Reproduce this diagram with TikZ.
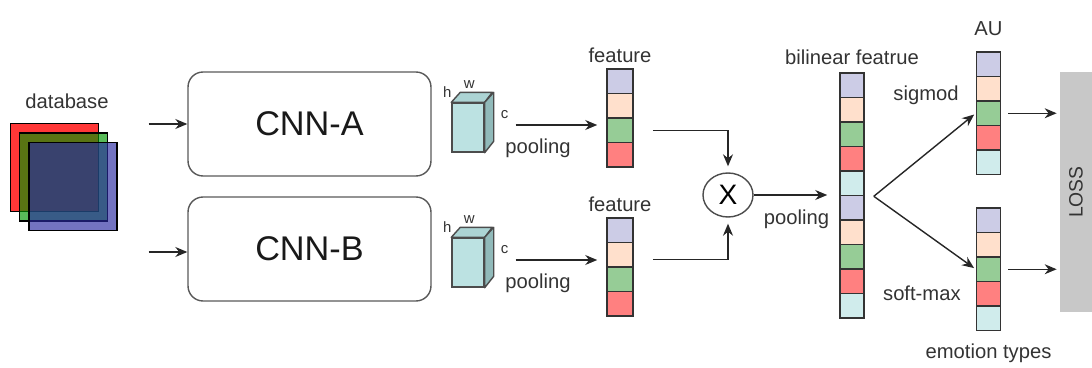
\documentclass[tikz,border=0pt]{standalone}
\usepackage{fontspec}
\setmainfont{Liberation Sans}
\usetikzlibrary{arrows.meta, positioning, calc, shapes.geometric}

\definecolor{cLav}{RGB}{204,204,230}
\definecolor{cPeach}{RGB}{255,224,204}
\definecolor{cGreen}{RGB}{150,204,150}
\definecolor{cRed}{RGB}{255,128,128}
\definecolor{cCyan}{RGB}{208,236,236}
\definecolor{cText}{RGB}{51,51,51}
\definecolor{cCube}{RGB}{188,226,226}
\definecolor{cCubeTop}{RGB}{172,212,212}
\definecolor{cCubeSide}{RGB}{145,186,186}
\definecolor{cLoss}{RGB}{200,200,200}
\definecolor{imgR}{RGB}{255,55,55}
\definecolor{imgG}{RGB}{0,150,0}
\definecolor{imgB}{RGB}{40,40,160}

\tikzset{
  cnn/.style={
    rectangle,
    draw=black!65,
    line width=0.8pt,
    rounded corners=3mm,
    text=black!90,
    minimum width=4.86cm,
    minimum height=2.08cm,
    font=\fontsize{19.5}{22}\selectfont
  },
  cell/.style={
    rectangle,
    draw=black!80,
    line width=0.9pt,
    inner sep=0pt,
    minimum width=4.8mm,
    minimum height=4.9mm
  },
  lbl/.style={text=cText, font=\fontsize{11.5}{13}\selectfont, inner sep=1pt},
  small/.style={text=cText, font=\fontsize{8.5}{10}\selectfont, inner sep=0pt},
  arrow/.style={
    line width=0.8pt,
    draw=black!85,
    -{Stealth[length=2.4mm, width=2mm]}
  }
}

\begin{document}
\begin{tikzpicture}[x=0.02cm, y=-0.02cm,
  img/.style={rectangle, draw=black, line width=0.6pt, minimum size=1.76cm, inner sep=0pt, fill opacity=0.65, draw opacity=1},
  cube/.style={rectangle, draw=black!70, fill=cCube, line width=0.8pt, minimum width=6.4mm, minimum height=9.8mm, inner sep=0pt}
]
  \useasboundingbox (0,0) rectangle (1092,368);

  % Input images
  \node[img, fill=imgR, fill opacity=1] (sqR) at (54.5,167.5) {};
  \node[img, fill=imgG] (sqG) at (63.5,177) {};
  \node[img, fill=imgB] (sqB) at (73,186.5) {};
  \node[lbl] (db) at (67,101) {database};

  % Two networks
  \node[cnn] (cnnA) at (309.5,124) {CNN-A};
  \node[cnn] (cnnB) at (309.5,249) {CNN-B};

  \draw[arrow, shorten <=6.2mm] (sqB.east |- cnnA.west) -- (cnnA.west);
  \draw[arrow, shorten <=6.2mm] ([yshift=-0.06cm]sqB.east |- cnnB.west) -- ([yshift=-0.06cm]cnnB.west);

  % Feature maps
  \foreach \n/\y in {A/127.5, B/262.5} {
    \node[cube] (cube\n) at (468,\y) {};
    \filldraw[draw=black!70, fill=cCubeTop, line width=0.8pt, line join=round]
      (cube\n.north west) -- ++(9,-10) -- ++(32,0) -- (cube\n.north east) -- cycle;
    \filldraw[draw=black!70, fill=cCubeSide, line width=0.8pt, line join=round]
      (cube\n.north east) -- ++(9,-10) -- ++(0,49) -- (cube\n.south east) -- cycle;
    \node[small] (h\n) at ($(cube\n.north west)+(-4,-10)$) {h};
    \node[small] (w\n) at ($(cube\n.north west)+(18,-18)$) {w};
    \node[small] (c\n) at ($(cube\n.north east)+(20,12)$) {c};
  }

  % Pooled feature vectors
  \foreach \c [count=\i] in {cLav,cPeach,cGreen,cRed} {
    \node[cell, fill=\c, minimum width=5.2mm] (fa\i) at (620,{56.75+24.5*\i}) {};
    \node[cell, fill=\c, minimum width=5.2mm] (fb\i) at (620,{205.75+24.5*\i}) {};
  }
  \node[lbl, above=0.6mm of fa1] {feature};
  \node[lbl, above=0.6mm of fb1] {feature};

  \draw[arrow, shorten <=6.2mm, shorten >=1.8mm] ([yshift=0.05cm]cubeA.east) -- ([yshift=0.05cm]cubeA.east -| fa1.west)
    node[lbl, midway, below=2.2mm, xshift=-0.15cm] {pooling};
  \draw[arrow, shorten <=6.2mm, shorten >=1.8mm] ([yshift=0.05cm]cubeB.east) -- ([yshift=0.05cm]cubeB.east -| fb1.west)
    node[lbl, midway, below=2.2mm, xshift=-0.15cm] {pooling};

  % Bilinear product
  \node[ellipse, draw=black!70, line width=0.8pt, minimum width=1.0cm, minimum height=0.88cm,
    font=\fontsize{16}{18}\selectfont, inner sep=0pt] (mul) at (728,195) {X};
  \draw[arrow, shorten <=3.8mm, shorten >=1.2mm] (fa3.east) -| (mul.north);
  \draw[arrow, shorten <=3.8mm, shorten >=1.2mm] ([yshift=-0.1cm]fb2.east) -| (mul.south);

  \foreach \c [count=\i] in {cLav,cPeach,cGreen,cRed,cCyan,cLav,cPeach,cGreen,cRed,cCyan}
    \node[cell, fill=\c] (bl\i) at (852,{60.75+24.5*\i}) {};
  \node[lbl, above=1mm of bl1] {bilinear featrue};

  \draw[arrow, shorten >=2.4mm] (mul.east) -- (mul.east -| bl5.west)
    node[lbl, midway, below=2.4mm] {pooling};

  % Outputs
  \foreach \c [count=\i] in {cLav,cPeach,cGreen,cRed,cCyan} {
    \node[cell, fill=\c] (au\i) at (988.5,{39.75+24.5*\i}) {};
    \node[cell, fill=\c] (em\i) at (988.5,{195.75+24.5*\i}) {};
  }
  \node[lbl, above=2.6mm of au1] {AU};
  \node[lbl, below=2mm of em5] {emotion types};

  \coordinate (split) at ($(bl5.south east)+(9,0)$);
  \draw[arrow, shorten >=0.4mm] (split) -- (au3.west);
  \draw[arrow, shorten >=0.4mm] (split) -- (em3.west);
  \node[lbl] (sig) at (926,95) {sigmod};
  \node[lbl, left=2.6mm of em4] (soft) {soft-max};

  % Loss
  \node[rectangle, fill=cLoss, minimum width=6.4mm, minimum height=4.8cm, inner sep=0pt,
    text=cText, font=\fontsize{11}{13}\selectfont] (loss) at (1076,192) {\rotatebox{90}{LOSS}};
  \draw[arrow, shorten <=1.4mm, shorten >=0.6mm] (au3.east) -- (au3.east -| loss.west);
  \draw[arrow, shorten <=1.4mm, shorten >=0.6mm] (em3.east) -- (em3.east -| loss.west);
\end{tikzpicture}
\end{document}
